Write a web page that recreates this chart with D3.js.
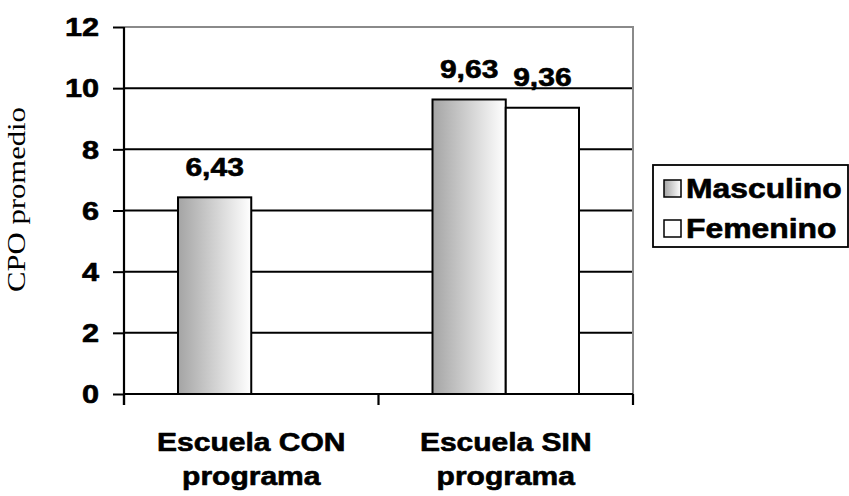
<!DOCTYPE html>
<html>
<head>
<meta charset="utf-8">
<script src="https://cdn.jsdelivr.net/npm/d3@7"></script>
<style>
  html, body { margin: 0; padding: 0; background: #fff; }
  svg { display: block; }
</style>
</head>
<body>
<svg id="chart" width="849" height="496"></svg>
<script>
// Mean CPO index by school type and sex
const categories = [["Escuela CON", "programa"], ["Escuela SIN", "programa"]];
const seriesNames = ["Masculino", "Femenino"];
const masculino = [6.43, 9.63];
const femenino = [null, 9.36];
const yTicks = [0, 2, 4, 6, 8, 10, 12];
const valueLabels = [["6,43", null], ["9,63", "9,36"]];
const yTitle = "CPO promedio";

const svg = d3.select("#chart");
const plot = { left: 124, right: 633, top: 27, bottom: 394 };
const sansBold = "'Liberation Sans', Arial, sans-serif";
const serif = "'Liberation Serif', 'Times New Roman', serif";

const y = d3.scaleLinear().domain([0, 12]).range([plot.bottom, plot.top]);
const x0 = d3.scaleBand().domain(d3.range(categories.length)).range([plot.left, plot.right]);
const x1 = d3.scaleBand().domain(seriesNames).range([54, x0.bandwidth() - 54]);

// horizontal gradient for the first series
const defs = svg.append("defs");
const grad = defs.append("linearGradient").attr("id", "gradM")
  .attr("x1", "0%").attr("x2", "100%").attr("y1", "0%").attr("y2", "0%");
grad.append("stop").attr("offset", "0%").attr("stop-color", "#a4a4a4");
grad.append("stop").attr("offset", "100%").attr("stop-color", "#ffffff");
const fills = { Masculino: "url(#gradM)", Femenino: "#ffffff" };

// gridlines
svg.append("g").selectAll("line").data(yTicks.filter(t => t > 0 && t < 12)).join("line")
  .attr("x1", plot.left).attr("x2", plot.right)
  .attr("y1", d => y(d)).attr("y2", d => y(d))
  .attr("stroke", "#000").attr("stroke-width", 2);

// plot frame: grey top and right edges
svg.append("path")
  .attr("d", `M${plot.left},${y(12)}H${plot.right}V${plot.bottom}`)
  .attr("fill", "none").attr("stroke", "#8a8a8a").attr("stroke-width", 2);

// bars
const rows = categories.map((c, i) => ({ i, values: [masculino[i], femenino[i]] }));
const groups = svg.append("g").selectAll("g").data(rows).join("g")
  .attr("transform", d => `translate(${x0(d.i)},0)`);
groups.selectAll("rect")
  .data(d => seriesNames.map((s, k) => ({ s, v: d.values[k] })).filter(e => e.v != null))
  .join("rect")
  .attr("x", d => x1(d.s))
  .attr("width", x1.bandwidth())
  .attr("y", d => y(d.v))
  .attr("height", d => y(0) - y(d.v))
  .attr("fill", d => fills[d.s])
  .attr("stroke", "#000").attr("stroke-width", 2);

// text drawn slightly wide along its baseline, with a light outline for weight
function stext(g, tx, ty, str, opts) {
  const sx = opts.stretch || 1.2;
  const t = g.append("text")
    .attr("transform", `translate(${tx},${ty})${opts.rotate ? " rotate(" + opts.rotate + ")" : ""} scale(${sx},1)`)
    .attr("text-anchor", opts.anchor || "middle")
    .attr("font-family", opts.family || sansBold)
    .attr("font-weight", opts.weight || "bold")
    .attr("font-size", opts.size || 25)
    .attr("fill", "#000")
    .text(str);
  if (opts.outline !== false) {
    t.attr("stroke", "#000").attr("stroke-width", 0.6).attr("stroke-linejoin", "round");
  }
  return t;
}

// value labels
const lab = svg.append("g");
rows.forEach(r => {
  seriesNames.forEach((s, k) => {
    const v = r.values[k];
    if (v == null) return;
    stext(lab, x0(r.i) + x1(s) + x1.bandwidth() / 2, y(v) - 21.5, valueLabels[r.i][k], {});
  });
});

// axes
const yAxis = d3.axisLeft(y).tickValues(yTicks).tickSize(11).tickFormat("");
const gy = svg.append("g").attr("transform", `translate(${plot.left},0)`).call(yAxis);
gy.select(".domain").remove();
gy.selectAll(".tick line").attr("stroke", "#000").attr("stroke-width", 2);
svg.append("line").attr("x1", plot.left).attr("x2", plot.left)
  .attr("y1", plot.top).attr("y2", plot.bottom + 11)
  .attr("stroke", "#000").attr("stroke-width", 2.2);
svg.append("line").attr("x1", plot.left).attr("x2", plot.right)
  .attr("y1", plot.bottom).attr("y2", plot.bottom)
  .attr("stroke", "#000").attr("stroke-width", 2.2);

const xTickPos = [plot.left, ...categories.map((c, i) => x0(i) + x0.bandwidth())];
svg.append("g").selectAll("line").data(xTickPos).join("line")
  .attr("x1", d => d).attr("x2", d => d)
  .attr("y1", plot.bottom).attr("y2", plot.bottom + 11)
  .attr("stroke", "#000").attr("stroke-width", 2.2);

// y tick labels
const yl = svg.append("g");
yTicks.forEach(t => stext(yl, 99, y(t) + 9.3, String(t), { anchor: "end", size: 26, stretch: 1.18 }));

// category labels
const xl = svg.append("g");
categories.forEach((c, i) => {
  const cx = x0(i) + x0.bandwidth() / 2;
  stext(xl, cx, 451, c[0], {});
  stext(xl, cx, 485, c[1], {});
});

// y axis title
stext(svg, 25, (108 + 291) / 2, yTitle,
  { rotate: -90, family: serif, weight: "normal", size: 26, stretch: 1.18, outline: false });

// legend
const leg = svg.append("g");
leg.append("rect").attr("x", 653).attr("y", 165).attr("width", 195).attr("height", 82)
  .attr("fill", "#fff").attr("stroke", "#000").attr("stroke-width", 1.8);
seriesNames.forEach((s, k) => {
  const by = 198 + k * 40;
  leg.append("rect").attr("x", 664).attr("y", by - 18).attr("width", 17).attr("height", 17)
    .attr("fill", fills[s]).attr("stroke", "#000").attr("stroke-width", 1.5);
  stext(leg, 686, by, s, { anchor: "start", size: 27, stretch: 1.18 });
});
</script>
</body>
</html>
